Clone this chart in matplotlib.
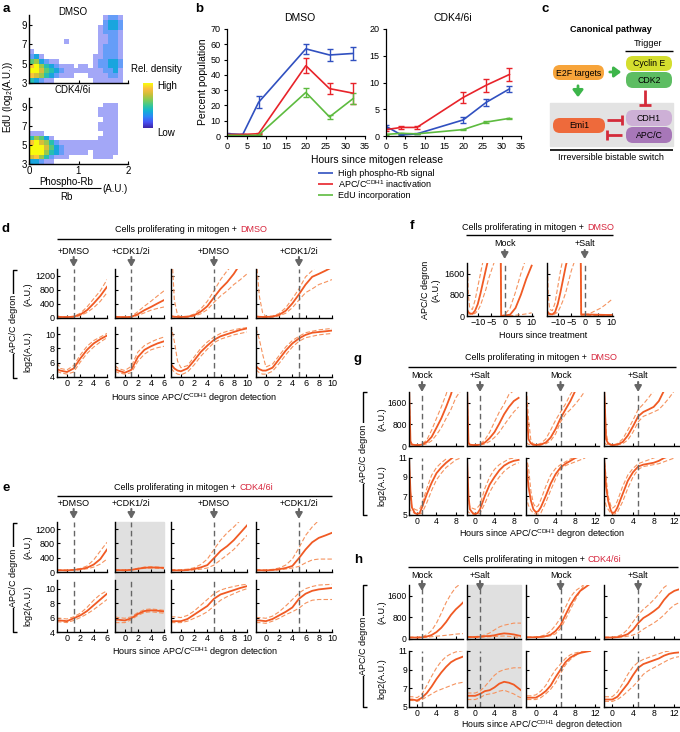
import numpy as np
import matplotlib.pyplot as plt
from matplotlib.colors import LinearSegmentedColormap
from matplotlib.patches import FancyBboxPatch, Rectangle

plt.rcParams['font.family'] = ['Liberation Sans', 'DejaVu Sans']
plt.rcParams['mathtext.fontset'] = 'custom'
plt.rcParams['mathtext.rm'] = 'Liberation Sans'
plt.rcParams['mathtext.it'] = 'Liberation Sans:italic'

W, H = 680, 732
ORANGE = '#f05a24'
LIGHT = '#f5935f'
GREY = '#666666'
RED_TXT = '#d7263d'

# ---------------- data ----------------
# (a) relative density, rows from top (EdU 10) to bottom (EdU 3), columns phospho-Rb/Rb 0..2 step 0.1
A_DMSO = ["00000000000000012210",
          "00000000000000023320",
          "00000000000000123320",
          "00000000000000122210",
          "00000000000000112210",
          "00000001000000112210",
          "00000000000000122210",
          "10000000000000122210",
          "23100000000001122210",
          "56321100000001223320",
          "89643211101101223320",
          "99754321111111122310",
          "87643211100011112210",
          "43211000000001111110"]
A_CDK = ["00000000000000000000",
         "00000000000000011100",
         "00000000000000111100",
         "00000000000000111100",
         "00000000000000011100",
         "00000000000000111100",
         "00000000000000111100",
         "11100000000000011100",
         "46531000000000111100",
         "89764211111111111100",
         "99975321111111111100",
         "99964321111101111100",
         "78642111000001111000",
         "33211000000000000000"]

# (b) percent population
B_HOURS = [0, 4, 8, 20, 26, 32]
B_DMSO_RB = [1.5, 1.0, 22, 57, 53, 54]
B_DMSO_RB_ERR = [0.5, 0.5, 4, 3.5, 4, 4]
B_DMSO_APC = [1.0, 1.0, 1.5, 46, 31, 28]
B_DMSO_APC_ERR = [0.5, 0.5, 0.5, 5, 3.5, 7]
B_DMSO_EDU = [0.5, 0.3, 0.5, 28.5, 12.5, 24.5]
B_DMSO_EDU_ERR = [0.3, 0.3, 0.3, 3, 1.5, 3.5]
B_CDK_RB = [1.8, 0.2, 0.4, 3.0, 6.3, 8.8]
B_CDK_RB_ERR = [0.3, 0.1, 0.1, 0.5, 0.7, 0.5]
B_CDK_APC = [1.2, 1.6, 1.6, 7.2, 9.5, 11.5]
B_CDK_APC_ERR = [0.2, 0.3, 0.3, 1.1, 1.2, 1.3]
B_CDK_EDU = [0.3, 0.5, 0.4, 1.2, 2.6, 3.3]
B_CDK_EDU_ERR = [0.05, 0.1, 0.05, 0.1, 0.15, 0.1]
B_LEGEND = ['High phospho-Rb signal', r'APC/C$^{\rm CDH1}$ inactivation', 'EdU incorporation']

# (d) DMSO, log2 degron (median and bounds); linear row is 2**value
D_X = [[-1.5, -1, 0, 1, 2, 3, 4, 5, 6],
       [-1.5, -1, 0, 1, 2, 3, 4, 5, 6],
       [-1.5, -1, -0.5, 0, 1, 2, 3, 4, 5, 6, 7, 8, 9, 10],
       [-1.5, -1, -0.5, 0, 1, 2, 3, 4, 5, 6, 7, 8, 9, 10]]
D_MID = [[5.1, 4.9, 4.7, 5.2, 6.6, 7.8, 8.7, 9.3, 9.8],
         [5.1, 4.9, 4.6, 5.0, 6.8, 7.8, 8.3, 8.7, 9.0],
         [5.8, 5.2, 4.9, 4.8, 5.2, 6.3, 7.5, 8.4, 9.2, 9.7, 10.0, 10.3, 10.6, 10.8],
         [5.5, 5.1, 4.9, 4.9, 5.3, 6.5, 7.7, 8.7, 9.4, 9.9, 10.2, 10.3, 10.4, 10.5]]
D_HI = [[6.0, 5.2, 5.0, 5.6, 7.1, 8.3, 9.1, 9.6, 10.1],
        [5.6, 5.2, 4.9, 5.5, 7.5, 8.4, 8.9, 9.3, 9.6],
        [11.2, 9.0, 6.2, 5.3, 5.6, 6.8, 8.0, 8.9, 9.6, 10.1, 10.4, 10.6, 10.8, 10.9],
        [10.8, 9.3, 7.2, 5.4, 5.8, 7.0, 8.2, 9.1, 9.7, 10.2, 10.4, 10.6, 10.7, 10.8]]
D_LO = [[4.8, 4.6, 4.4, 4.7, 6.1, 7.3, 8.2, 8.9, 9.5],
        [4.8, 4.6, 4.4, 4.6, 6.2, 7.2, 7.8, 8.1, 8.3],
        [5.2, 4.7, 4.4, 4.3, 4.7, 5.7, 6.9, 7.9, 8.8, 9.3, 9.6, 9.9, 10.1, 10.3],
        [5.0, 4.6, 4.4, 4.4, 4.8, 5.9, 7.1, 8.2, 9.0, 9.5, 9.7, 9.9, 10.0, 10.1]]

# (e) CDK4/6i
E_X = [[-1.5, -1, 0, 1, 2, 3, 4, 5, 6],
       [-1.5, -1, 0, 1, 2, 3, 4, 5, 6],
       [-1.5, -1, 0, 1, 2, 3, 4, 5, 6, 7, 8, 9, 10],
       [-1.5, -1, 0, 1, 2, 3, 4, 5, 6, 7, 8, 9, 10]]
E_MID = [[5.6, 5.6, 5.5, 5.9, 6.3, 6.9, 7.7, 8.5, 9.3],
         [5.7, 5.7, 5.6, 5.9, 6.5, 6.9, 7.0, 6.95, 6.85],
         [5.5, 5.5, 5.5, 5.8, 6.4, 7.0, 7.6, 8.6, 9.2, 9.5, 9.8, 10.1, 10.35],
         [5.6, 5.6, 5.5, 5.8, 6.3, 6.8, 7.4, 8.6, 9.3, 9.7, 9.9, 10.0, 10.1]]
E_HI = [[5.9, 5.9, 5.8, 6.1, 6.6, 7.4, 8.4, 9.2, 9.7],
        [6.1, 6.0, 5.9, 6.1, 6.7, 7.1, 7.2, 7.1, 7.0],
        [6.1, 6.1, 6.0, 6.3, 6.9, 7.7, 8.5, 9.3, 9.8, 10.1, 10.3, 10.5, 10.6],
        [6.0, 6.0, 5.9, 6.2, 6.8, 7.6, 8.5, 9.4, 10.0, 10.3, 10.5, 10.55, 10.6]]
E_LO = [[5.4, 5.4, 5.3, 5.6, 6.0, 6.5, 7.1, 7.8, 8.5],
        [5.3, 5.3, 5.3, 5.7, 6.3, 6.7, 6.8, 6.7, 6.6],
        [5.3, 5.3, 5.3, 5.5, 5.9, 6.3, 6.8, 7.6, 8.4, 8.9, 9.3, 9.7, 10.0],
        [5.3, 5.3, 5.2, 5.5, 5.9, 6.4, 6.8, 7.3, 8.0, 8.4, 8.5, 8.5, 8.5]]

# (f) linear degron, hours since treatment (division drop near -1.5 h)
F_X = [-14, -13.5, -13, -12, -11, -10, -9, -8, -7, -6, -5, -4, -2, -1.6, -1.3, 0, 2, 4, 6, 8, 10]
F_MID = [[250, 150, 100, 80, 200, 450, 850, 1300, 1750, 2200, 2600, 3000, 3500, 3600, 0, 20, 50, 300, 800, 1400, 1900],
         [200, 120, 80, 60, 150, 450, 900, 1400, 1900, 2300, 2700, 3000, 3400, 3500, 60, 60, 55, 50, 45, 40, 40]]
F_HI = [[2500, 800, 300, 250, 600, 1100, 1600, 2100, 2600, 3000, 3300, 3500, 3700, 3800, 0, 50, 300, 900, 1600, 2200, 2800],
        [2500, 700, 250, 200, 500, 1100, 1700, 2200, 2700, 3000, 3300, 3500, 3700, 3800, 30, 30, 100, 200, 300, 450, 620]]
F_LO = [[100, 80, 70, 60, 100, 200, 400, 700, 1000, 1400, 1700, 2000, 2600, 2800, 0, 0, 10, 30, 50, 80, 120],
        [80, 60, 50, 40, 80, 150, 350, 600, 900, 1300, 1700, 2000, 2500, 2700, 10, 10, 15, 20, 20, 20, 20]]

# (g) DMSO, salt
G_X = [[-1.7, -1.4, -1.1, -0.5, 0, 0.5, 1, 2, 3, 4, 5, 6, 7, 8, 9],
       [-1.7, -1.4, -1.1, -0.5, 0, 0.5, 1, 2, 3, 4, 5, 6, 7, 8, 9],
       [-2, -1.5, -1, -0.5, 0, 0.5, 1, 2, 3, 4, 5, 6, 7, 8, 9, 10],
       [-1.6, -1.2, -0.8, -0.3, 0, 0.5, 1, 2, 3, 4, 5, 6, 7, 8, 9, 10, 11, 12]]
G_MID = [[11.2, 7.5, 5.8, 5.2, 5.1, 5.2, 5.8, 7.2, 8.4, 9.4, 10.0, 10.5, 10.9, 11.3, 11.5],
         [11.2, 7.0, 5.6, 5.2, 5.1, 5.2, 5.6, 7.0, 8.2, 9.0, 9.7, 10.2, 10.5, 10.7, 10.8],
         [10.8, 8.0, 6.5, 5.6, 5.3, 5.4, 5.8, 7.0, 8.3, 9.3, 10.0, 10.4, 10.7, 11.0, 11.2, 11.4],
         [11.2, 8.0, 6.5, 5.5, 5.2, 5.3, 5.8, 7.2, 8.6, 9.5, 10.1, 10.3, 10.4, 10.5, 10.7, 11.0, 11.2, 11.4]]
G_HI = [[11.2, 6.8, 5.9, 5.6, 5.5, 5.6, 6.2, 7.8, 9.2, 10.0, 10.5, 10.9, 11.3, 11.5, 11.6],
        [11.2, 6.6, 5.8, 5.7, 5.6, 5.8, 6.1, 7.8, 9.0, 9.8, 10.3, 10.6, 10.9, 11.0, 11.1],
        [11.2, 10.0, 7.5, 6.2, 5.8, 6.0, 6.6, 8.0, 9.2, 9.9, 10.3, 10.6, 10.9, 11.1, 11.3, 11.5],
        [11.2, 9.0, 7.0, 6.0, 5.7, 5.9, 6.5, 8.0, 9.2, 9.9, 10.4, 10.6, 10.8, 11.0, 11.2, 11.4, 11.5, 11.6]]
G_LO = [[5.8, 5.5, 5.3, 5.2, 5.1, 5.1, 5.2, 6.3, 7.6, 8.7, 9.4, 10.0, 10.4, 10.8, 11.0],
        [5.5, 5.3, 5.2, 5.1, 5.0, 5.0, 5.2, 6.2, 7.4, 8.3, 9.0, 9.6, 10.0, 10.3, 10.5],
        [7.0, 6.0, 5.5, 5.2, 5.1, 5.1, 5.2, 6.3, 7.6, 8.8, 9.8, 10.2, 10.4, 10.6, 10.8, 11.0],
        [7.0, 6.0, 5.6, 5.2, 5.1, 5.1, 5.3, 6.4, 7.8, 9.0, 9.8, 10.1, 10.2, 10.3, 10.4, 10.6, 10.8, 11.0]]

# (h) CDK4/6i, salt
H_X = [[-1.7, -1, 0, 1, 2, 3, 4, 5, 6, 7, 8, 9, 9.5],
       [-1.7, -1, 0, 1, 2, 3, 4, 5, 6, 7, 8, 9, 9.5],
       [-1.8, -1, 0, 1, 2, 3, 4, 5, 6, 7, 8, 9, 10, 11],
       [-1.5, -1, 0, 1, 2, 3, 4, 5, 6, 7, 8, 9, 10, 11, 12, 13]]
H_MID = [[5.8, 5.8, 5.7, 6.0, 6.5, 7.2, 8.0, 8.7, 9.3, 9.8, 10.1, 10.3, 10.4],
         [6.2, 6.2, 6.2, 6.4, 6.7, 6.8, 7.1, 7.5, 7.7, 7.6, 7.4, 7.0, 6.8],
         [6.0, 6.0, 6.0, 6.3, 6.7, 7.3, 8.2, 9.0, 9.8, 10.3, 10.6, 10.8, 10.9, 11.0],
         [5.8, 5.8, 5.8, 6.1, 6.8, 7.5, 8.4, 9.2, 9.6, 9.8, 10.0, 10.2, 10.5, 10.7, 10.8, 10.85]]
H_HI = [[6.1, 6.1, 6.0, 6.4, 7.3, 8.3, 9.2, 9.9, 10.4, 10.7, 10.9, 11.0, 11.05],
        [6.5, 6.5, 6.5, 6.7, 7.2, 7.8, 8.4, 8.8, 9.0, 9.1, 9.2, 9.2, 9.2],
        [6.2, 6.2, 6.3, 6.7, 7.3, 8.2, 9.0, 9.6, 10.2, 10.6, 10.8, 10.9, 11.0, 11.1],
        [6.1, 6.1, 6.1, 6.6, 7.5, 8.5, 9.3, 9.8, 10.1, 10.3, 10.5, 10.7, 10.9, 11.0, 11.1, 11.1]]
H_LO = [[5.7, 5.7, 5.6, 5.8, 6.1, 6.4, 6.7, 6.9, 7.1, 7.3, 7.5, 7.6, 7.65],
        [5.8, 5.8, 5.8, 6.0, 6.3, 6.4, 6.5, 6.7, 6.8, 6.6, 6.4, 6.1, 6.0],
        [5.8, 5.8, 5.8, 6.0, 6.4, 6.9, 7.6, 8.6, 9.5, 10.1, 10.5, 10.8, 11.0, 11.1],
        [5.6, 5.6, 5.6, 5.8, 6.2, 6.7, 7.2, 7.8, 8.5, 8.9, 9.2, 9.5, 9.8, 10.1, 10.3, 10.4]]

DE_LABELS = ['+DMSO', '+CDK1/2i', '+DMSO', '+CDK1/2i']
GH_LABELS = ['Mock', '+Salt', 'Mock', '+Salt']
F_LABELS = ['Mock', '+Salt']
DASH_AT = [1, 1, 5, 5]

# ---------------- layout helpers (pixel coordinates) ----------------
fig = plt.figure(figsize=(W / 100, H / 100), dpi=100)


def add_ax(l, t, r, b):
    return fig.add_axes([l / W, 1 - b / H, (r - l) / W, (b - t) / H])


def to_px(l, r, lim, v):
    return l + (v - lim[0]) / (lim[1] - lim[0]) * (r - l)


def style(ax, lw=1.0, size=6.5):
    for s in ['top', 'right']:
        ax.spines[s].set_visible(False)
    for s in ['left', 'bottom']:
        ax.spines[s].set_linewidth(lw)
    ax.tick_params(direction='in', length=2.5, width=0.8, labelsize=size, pad=1.5)


ov = fig.add_axes([0, 0, 1, 1], zorder=10)
ov.set_xlim(0, W)
ov.set_ylim(H, 0)
ov.axis('off')
ov.patch.set_alpha(0)


def txt(x, y, s, **kw):
    kw.setdefault('fontsize', 6.5)
    kw.setdefault('ha', 'center')
    kw.setdefault('va', 'center')
    ov.text(x, y, s, **kw)


def line(xs, ys, **kw):
    kw.setdefault('color', 'k')
    kw.setdefault('lw', 1.0)
    ov.plot(xs, ys, solid_capstyle='butt', **kw)


def down_arrow(x, y0, y1, color=GREY):
    ov.annotate('', xy=(x, y1), xytext=(x, y0),
                arrowprops=dict(arrowstyle='-|>,head_width=0.2,head_length=0.35',
                                color=color, lw=1.5, shrinkA=0, shrinkB=0))


# panel letters
for lab, x, y in [('a', 6, 9), ('b', 199, 9), ('c', 545, 9), ('d', 6, 229),
                  ('e', 6, 488), ('f', 412, 226), ('g', 358, 359), ('h', 358, 560)]:
    txt(x, y, lab, fontsize=9.5, fontweight='bold')

# ---------------- (a) ----------------
parula = LinearSegmentedColormap.from_list('parula', [
    (0.2422, 0.1504, 0.6603), (0.2810, 0.3228, 0.9579), (0.1786, 0.5289, 0.9682),
    (0.0689, 0.6948, 0.8394), (0.2161, 0.7843, 0.5923), (0.5044, 0.7993, 0.3480),
    (0.8, 0.75, 0.22), (0.9856, 0.7372, 0.2537), (0.9763, 0.9831, 0.0538)])


def density_rgb(rows):
    vals = np.array([[int(c) for c in r] for r in rows], dtype=float)
    rgba = parula(0.12 + 0.88 * (vals - 1) / 8.0)
    strength = np.clip(vals / 3.0, 0, 1)[..., None] * 0.75 + 0.25
    rgb = rgba[..., :3] * strength + (1 - strength)
    rgb[vals == 0] = 1.0
    return rgb


for rows, (t, b), name, ny in [(A_DMSO, (15, 83), 'DMSO', 12), (A_CDK, (98, 164), 'CDK4/6i', 90)]:
    ax = add_ax(29, t, 128, b)
    ax.imshow(density_rgb(rows), extent=(0, 2, 3, 10), aspect='auto', interpolation='nearest')
    ax.set_xlim(0, 2)
    ax.set_ylim(3, 10)
    ax.set_yticks([3, 5, 7, 9])
    ax.set_xticks([0, 1, 2])
    style(ax, size=7)
    if name == 'DMSO':
        ax.set_xticklabels([])
    txt(73, ny, name, fontsize=7)

cax = add_ax(143, 83, 153, 128)
cax.imshow(np.linspace(0, 1, 64)[:, None], cmap=parula, origin='lower', aspect='auto')
cax.set_xticks([])
cax.set_yticks([])
for s in cax.spines.values():
    s.set_visible(False)
txt(131, 69, 'Rel. density', ha='left', fontsize=7)
txt(157, 86, 'High', ha='left', fontsize=7)
txt(157, 133, 'Low', ha='left', fontsize=7)
txt(8, 97, r'EdU (log$_2$(A.U.))', rotation=90, fontsize=7)
txt(66, 182, 'Phospho-Rb', fontsize=7)
line([29, 101], [188, 188], lw=0.8)
txt(66, 197, 'Rb', fontsize=7)
txt(115, 189, '(A.U.)', fontsize=7)

# ---------------- (b) ----------------
B_BLUE, B_RED, B_GREEN = '#3050c0', '#e8232a', '#5dbb3f'
for (l, r), ylim, yt, series, title, tx in [
        ((227, 365), 70, range(0, 71, 10),
         [(B_DMSO_RB, B_DMSO_RB_ERR, B_BLUE), (B_DMSO_APC, B_DMSO_APC_ERR, B_RED),
          (B_DMSO_EDU, B_DMSO_EDU_ERR, B_GREEN)], 'DMSO', 300),
        ((386, 521), 20, range(0, 21, 5),
         [(B_CDK_RB, B_CDK_RB_ERR, B_BLUE), (B_CDK_APC, B_CDK_APC_ERR, B_RED),
          (B_CDK_EDU, B_CDK_EDU_ERR, B_GREEN)], 'CDK4/6i', 453)]:
    ax = add_ax(l, 29, r, 136)
    for vals, err, col in series:
        ax.errorbar(B_HOURS, vals, yerr=err, color=col, lw=1.2, elinewidth=1.0,
                    capsize=2, capthick=1.0)
    ax.set_xlim(0, 35)
    ax.set_ylim(0, ylim)
    ax.set_xticks(range(0, 36, 5))
    ax.set_yticks(list(yt))
    style(ax, 0.9)
    ax.tick_params(direction='out', length=2.5, pad=2)
    txt(tx, 18, title, fontsize=7.5)
txt(203, 82, 'Percent population', rotation=90, fontsize=7.5)
txt(377, 160, 'Hours since mitogen release', fontsize=7.5)
for k, (lab, col) in enumerate(zip(B_LEGEND, [B_BLUE, B_RED, B_GREEN])):
    y = 173 + 11 * k
    line([318, 333], [y, y], color=col, lw=1.2)
    txt(338, y, lab, ha='left', fontsize=6.5)

# ---------------- (c) ----------------
txt(611, 29, 'Canonical pathway', fontweight='bold', fontsize=6.5)
txt(648, 44, 'Trigger', fontsize=6.5)
line([625, 673], [51, 51], lw=1.0)
ov.add_patch(Rectangle((550, 103), 123, 43, color='#e3e3e3', zorder=1))
for (l, t, r, b), col, lab in [((553, 65, 604, 80), '#f7a43a', 'E2F targets'),
                               ((626, 56, 672, 71), '#d4de2e', 'Cyclin E'),
                               ((626, 72, 672, 88), '#5dbd62', 'CDK2'),
                               ((553, 118, 605, 133), '#ee6a3b', 'Emi1'),
                               ((626, 110, 672, 126), '#cdb0d6', 'CDH1'),
                               ((626, 127, 672, 143), '#a777b8', 'APC/C')]:
    ov.add_patch(FancyBboxPatch((l, t), r - l, b - t, boxstyle='round,pad=0,rounding_size=7',
                                fc=col, ec='none', zorder=2))
    txt((l + r) / 2, (t + b) / 2 + 0.5, lab, fontsize=6.3, zorder=3)
GREEN_ARR = '#3db54a'
INH = '#d42b3a'
ov.annotate('', xy=(624, 72), xytext=(607, 72),
            arrowprops=dict(arrowstyle='-|>,head_width=0.3,head_length=0.4', color=GREEN_ARR, lw=2))
ov.annotate('', xy=(578, 100), xytext=(578, 83),
            arrowprops=dict(arrowstyle='-|>,head_width=0.3,head_length=0.4', color=GREEN_ARR, lw=2))
line([645, 645], [90, 105], color=INH, lw=2)
line([639, 651], [105, 105], color=INH, lw=2)
line([607, 622], [120, 120], color=INH, lw=2)
line([622, 622], [115, 125], color=INH, lw=2)
line([607, 622], [135, 135], color=INH, lw=2)
line([607, 607], [130, 140], color=INH, lw=2)
line([550, 673], [150, 150], lw=1.2)
txt(611, 158, 'Irreversible bistable switch', fontsize=6.5)


# ---------------- trace panels ----------------
def header(l, r, y_line, y_txt, split, drug):
    line([l, r], [y_line, y_line], lw=1.0)
    txt(split, y_txt, 'Cells proliferating in mitogen +', ha='right')
    txt(split + 3, y_txt, drug, ha='left', color=RED_TXT)


def bracket(x, y0, y1, sub1, sub2, xs):
    line([x + 4, x, x, x + 4], [y0, y0, y1, y1], lw=1.0)
    txt(x, (y0 + y1) / 2, 'APC/C degron', rotation=90,
        bbox=dict(fc='white', ec='none', pad=1.0))
    txt(xs, sub1, '(A.U.)', rotation=90)
    txt(xs, sub2, 'log2(A.U.)', rotation=90)


def draw_curves(ax, x, mid, lo, hi):
    ax.plot(x, lo, color=LIGHT, lw=0.8, ls=(0, (4, 2)))
    ax.plot(x, hi, color=LIGHT, lw=0.8, ls=(0, (4, 2)))
    ax.plot(x, mid, color=ORANGE, lw=1.3)


def trace_block(cols, rows, xlims, xticks, lin_lim, lin_ticks, log_lim, log_ticks,
                xs, mids, los, his, labels, lab_y, arr_y, size=6.5):
    for j, (l, r) in enumerate(cols):
        x = np.array(xs[j])
        for i, (t, b) in enumerate(rows):
            ax = add_ax(l, t, r, b)
            ax.patch.set_alpha(0)
            if i == 0:
                draw_curves(ax, x, 2.0 ** np.array(mids[j]), 2.0 ** np.array(los[j]),
                            2.0 ** np.array(his[j]))
                ax.set_ylim(*lin_lim)
                ax.set_yticks(lin_ticks)
            else:
                draw_curves(ax, x, mids[j], los[j], his[j])
                ax.set_ylim(*log_lim)
                ax.set_yticks(log_ticks)
            ax.axvline(DASH_AT[j], color=GREY, lw=1.0, ls=(0, (4, 2.5)))
            ax.set_xlim(*xlims[j])
            ax.set_xticks(xticks[j])
            style(ax, size=size)
            if j > 0:
                ax.set_yticklabels([])
            if i == 0:
                ax.set_xticklabels([])
        xp = to_px(l, r, xlims[j], DASH_AT[j])
        txt(xp, lab_y, labels[j])
        down_arrow(xp, arr_y[0], arr_y[1])


DE_COLS = [(57, 107), (115, 164), (171, 247), (256, 332)]
DE_XLIM = [(-1.5, 6), (-1.5, 6), (-1.5, 10), (-1.5, 10)]
DE_XT = [[0, 2, 4, 6], [0, 2, 4, 6], [0, 2, 4, 6, 8, 10], [0, 2, 4, 6, 8, 10]]
GH_COLS = [(409, 463), (467, 521), (526, 599), (604, 679)]
GH_XLIM = [(-1.7, 9.5), (-1.7, 9.5), (-2, 12.8), (-1.6, 12.9)]
GH_XT = [[0, 4, 8], [0, 4, 8], [0, 4, 8, 12], [0, 4, 8, 12]]
XLAB = r'Hours since APC/C$^{\rm CDH1}$ degron detection'

# shaded (CDK1/2i, salt under CDK4/6i)
for l, t, r, b in [(115, 522, 164, 632), (467, 585, 521, 707)]:
    fig.add_artist(Rectangle((l / W, 1 - b / H), (r - l) / W, (b - t) / H,
                             color='#e0e0e0', zorder=-1, transform=fig.transFigure))

# (d)
header(57, 331, 239, 230, 237, 'DMSO')
trace_block(DE_COLS, [(269, 318), (327, 377)], DE_XLIM, DE_XT, (0, 1400), [0, 400, 800, 1200],
            (4, 11), [4, 6, 8, 10], D_X, D_MID, D_LO, D_HI, DE_LABELS, 252, (257, 267))
bracket(13, 270, 378, 294, 352, 28)
txt(194, 398, XLAB)

# (e)
header(57, 332, 496, 488, 236, 'CDK4/6i')
trace_block(DE_COLS, [(522, 572), (580, 632)], DE_XLIM, DE_XT, (0, 1400), [0, 400, 800, 1200],
            (4, 11.2), [4, 6, 8, 10], E_X, E_MID, E_LO, E_HI, DE_LABELS, 503, (509, 519))
bracket(13, 523, 632, 547, 606, 28)
txt(195, 652, XLAB)

# (f)
header(466, 613, 235, 227, 584, 'DMSO')
F_COLS = [(467, 533), (547, 613)]
for j, (l, r) in enumerate(F_COLS):
    ax = add_ax(l, 263, r, 316)
    ax.patch.set_alpha(0)
    draw_curves(ax, F_X, F_MID[j], F_LO[j], F_HI[j])
    ax.axvline(0, color=GREY, lw=1.0, ls=(0, (4, 2.5)))
    ax.set_xlim(-14, 10.5)
    ax.set_ylim(0, 2000)
    ax.set_yticks([0, 800, 1600])
    ax.set_xticks([-10, -5, 0, 5, 10])
    style(ax)
    if j > 0:
        ax.set_yticklabels([])
    xp = to_px(l, r, (-14, 10.5), 0)
    txt(xp, 244, F_LABELS[j])
    down_arrow(xp, 250, 259)
txt(425, 290, 'APC/C degron', rotation=90)
txt(436, 290, '(A.U.)', rotation=90)
txt(543, 335, 'Hours since treatment')

# (g)
header(408, 676, 367, 358, 587, 'DMSO')
trace_block(GH_COLS, [(392, 446), (458, 515)], GH_XLIM, GH_XT, (0, 2000), [0, 800, 1600],
            (5, 11), [5, 7, 9, 11], G_X, G_MID, G_LO, G_HI, GH_LABELS, 376, (382, 392), size=6.2)
bracket(363, 392, 515, 419, 486, 382)
txt(542, 534, XLAB)

# (h)
header(408, 678, 567, 560, 585, 'CDK4/6i')
trace_block(GH_COLS, [(585, 639), (651, 707)], GH_XLIM, GH_XT, (0, 2000), [0, 800, 1600],
            (5, 11), [5, 7, 9, 11], H_X, H_MID, H_LO, H_HI, GH_LABELS, 576, (581, 591), size=6.2)
bracket(363, 585, 707, 612, 679, 382)
txt(542, 725, XLAB, fontsize=6.3)

fig.savefig('out.png', dpi=100)
